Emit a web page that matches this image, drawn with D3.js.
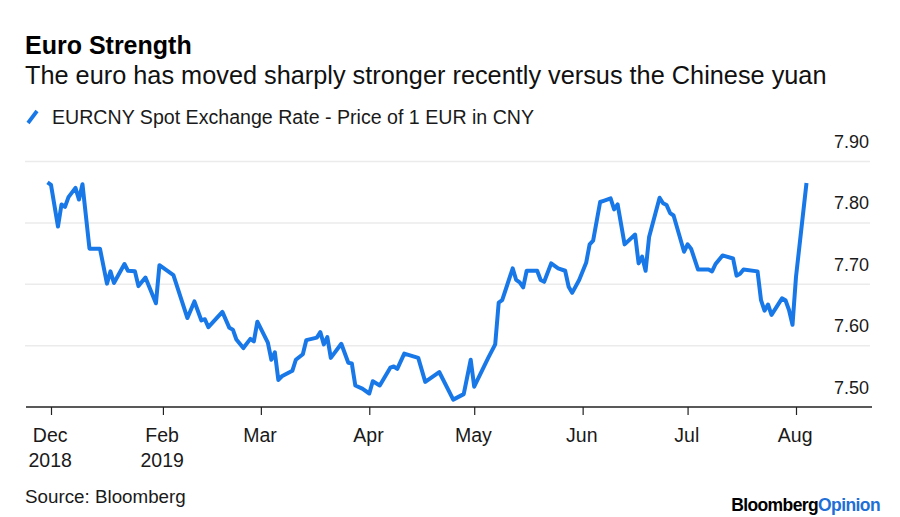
<!DOCTYPE html>
<html>
<head>
<meta charset="utf-8">
<script src="https://cdn.jsdelivr.net/npm/d3@7"></script>
<style>
  html, body { margin: 0; padding: 0; background: #fff; }
  svg { display: block; font-family: "Liberation Sans", Arial, sans-serif; }
</style>
</head>
<body>
<svg id="chart" width="900" height="517"></svg>
<script>
// ---- Data ----
const dates = [
  "2018-12-30","2018-12-31","2019-01-02","2019-01-03","2019-01-04","2019-01-05","2019-01-07","2019-01-08","2019-01-09",
  "2019-01-11","2019-01-14","2019-01-16","2019-01-17","2019-01-18","2019-01-21","2019-01-22","2019-01-24","2019-01-25",
  "2019-01-27","2019-01-30","2019-01-31","2019-02-04","2019-02-08","2019-02-10","2019-02-12","2019-02-13","2019-02-14",
  "2019-02-18","2019-02-20","2019-02-21","2019-02-22","2019-02-24","2019-02-26","2019-02-27","2019-02-28","2019-03-03",
  "2019-03-04","2019-03-05","2019-03-06","2019-03-07","2019-03-10","2019-03-11","2019-03-13","2019-03-14","2019-03-17",
  "2019-03-18","2019-03-19","2019-03-20","2019-03-21","2019-03-24","2019-03-26","2019-03-27","2019-03-28","2019-03-30",
  "2019-04-01","2019-04-02","2019-04-04","2019-04-07","2019-04-08","2019-04-09","2019-04-11","2019-04-15","2019-04-17",
  "2019-04-21","2019-04-25","2019-04-28","2019-04-30","2019-05-01","2019-05-05","2019-05-07","2019-05-08","2019-05-09",
  "2019-05-12","2019-05-13","2019-05-14","2019-05-15","2019-05-16","2019-05-19","2019-05-20","2019-05-21","2019-05-23",
  "2019-05-25","2019-05-27","2019-05-28","2019-05-29","2019-05-31","2019-06-02","2019-06-03","2019-06-04","2019-06-06",
  "2019-06-07","2019-06-09","2019-06-10","2019-06-11","2019-06-13","2019-06-16","2019-06-17","2019-06-18","2019-06-19",
  "2019-06-20","2019-06-23","2019-06-24","2019-06-25","2019-06-26","2019-06-27","2019-06-30","2019-07-01","2019-07-02",
  "2019-07-04","2019-07-07","2019-07-08","2019-07-09","2019-07-11","2019-07-14","2019-07-15","2019-07-16","2019-07-17",
  "2019-07-21","2019-07-22","2019-07-23","2019-07-24","2019-07-25","2019-07-28","2019-07-29","2019-07-30","2019-07-31",
  "2019-08-01","2019-08-04"
];
const eurcny = [
  7.866,7.862,7.794,7.830,7.826,7.842,7.857,7.838,7.863,
  7.758,7.758,7.701,7.721,7.702,7.733,7.722,7.721,7.697,
  7.711,7.669,7.731,7.715,7.645,7.672,7.641,7.643,7.630,
  7.655,7.629,7.626,7.610,7.596,7.611,7.607,7.639,7.605,
  7.577,7.589,7.544,7.550,7.559,7.577,7.586,7.609,7.613,
  7.622,7.602,7.614,7.580,7.603,7.572,7.571,7.535,7.530,
  7.522,7.542,7.535,7.564,7.566,7.562,7.587,7.580,7.541,
  7.557,7.512,7.521,7.577,7.533,7.580,7.602,7.670,7.674,
  7.726,7.707,7.703,7.695,7.722,7.722,7.707,7.704,7.734,
  7.726,7.722,7.696,7.686,7.707,7.735,7.765,7.771,7.834,
  7.836,7.840,7.822,7.830,7.765,7.781,7.734,7.745,7.722,
  7.777,7.841,7.832,7.829,7.816,7.812,7.753,7.765,7.758,
  7.724,7.724,7.721,7.733,7.747,7.742,7.714,7.717,7.724,
  7.721,7.674,7.657,7.667,7.650,7.677,7.674,7.658,7.634,
  7.712,7.865
];
const tickDates = ["2018-12-31","2019-02-01","2019-03-01","2019-04-01","2019-05-01","2019-06-01","2019-07-01","2019-08-01"];
const tickMonths = ["Dec","Feb","Mar","Apr","May","Jun","Jul","Aug"];
const tickYears = ["2018","2019","","","","","",""];
const yTicks = [7.50, 7.60, 7.70, 7.80, 7.90];

const title = "Euro Strength";
const subtitle = "The euro has moved sharply stronger recently versus the Chinese yuan";
const seriesName = "EURCNY Spot Exchange Rate - Price of 1 EUR in CNY";
const source = "Source: Bloomberg";

// ---- Setup ----
const parse = d3.timeParse("%Y-%m-%d");
const data = dates.map((d, i) => ({ date: parse(d), value: eurcny[i] }));
const ticks = tickDates.map((d, i) => ({ date: parse(d), m: tickMonths[i], y: tickYears[i] }));

const svg = d3.select("#chart");
const blue = "#1878e8";
const textCol = "#1a1a1a";

const x = d3.scaleTime()
  .domain([parse("2018-12-31"), parse("2019-08-01")])
  .range([51, 796]);
const y = d3.scaleLinear().domain([7.5, 7.9]).range([407, 161.5]);

const plotLeft = 25, plotRight = 870, axisRight = 872;

// Title block
svg.append("text").attr("x", 25).attr("y", 54)
  .attr("font-size", 25).attr("font-weight", "bold").attr("fill", "#000").text(title);
svg.append("text").attr("x", 25).attr("y", 83.5)
  .attr("font-size", 25.3).attr("fill", "#111").text(subtitle);

// Legend
svg.append("line").attr("x1", 28).attr("y1", 123).attr("x2", 37).attr("y2", 111)
  .attr("stroke", blue).attr("stroke-width", 3.8).attr("stroke-linecap", "butt");
svg.append("text").attr("x", 52).attr("y", 124)
  .attr("font-size", 19.6).attr("fill", textCol).text(seriesName);

// Gridlines
svg.append("g").selectAll("line").data(yTicks.slice(1)).join("line")
  .attr("x1", plotLeft).attr("x2", plotRight)
  .attr("y1", d => y(d)).attr("y2", d => y(d))
  .attr("stroke", "#ebebeb").attr("stroke-width", 1.5);

// Y labels (above gridlines)
svg.append("g").selectAll("text").data(yTicks).join("text")
  .attr("x", 869).attr("y", d => y(d) - 13.5)
  .attr("text-anchor", "end").attr("font-size", 18).attr("fill", textCol)
  .text(d => d3.format(".2f")(d));

// X axis
const xAxis = d3.axisBottom(x)
  .tickValues(ticks.map(t => t.date))
  .tickSize(8)
  .tickFormat("");
const gx = svg.append("g").attr("transform", `translate(0,${y(7.5)})`).call(xAxis);
gx.select(".domain").remove();
gx.selectAll(".tick line").attr("stroke", "#222").attr("stroke-width", 1.2);
svg.append("line").attr("x1", 26).attr("x2", axisRight)
  .attr("y1", y(7.5)).attr("y2", y(7.5)).attr("stroke", "#222").attr("stroke-width", 1.5);

const tl = svg.append("g").selectAll("g").data(ticks).join("g")
  .attr("transform", d => `translate(${x(d.date) - 0.8},0)`);
tl.append("text").attr("y", 442.3).attr("text-anchor", "middle")
  .attr("font-size", 19.5).attr("fill", textCol).text(d => d.m);
tl.append("text").attr("y", 466.7).attr("text-anchor", "middle")
  .attr("font-size", 19.5).attr("fill", textCol).text(d => d.y);

// Line
const line = d3.line().x(d => x(d.date)).y(d => y(d.value)).curve(d3.curveLinear);
svg.append("path").datum(data).attr("d", line)
  .attr("fill", "none").attr("stroke", blue).attr("stroke-width", 4)
  .attr("stroke-linejoin", "round").attr("stroke-linecap", "butt");

// Footer
svg.append("text").attr("x", 25).attr("y", 502.7)
  .attr("font-size", 18.8).attr("fill", textCol).text(source);
const logo = svg.append("text").attr("x", 880).attr("y", 511)
  .attr("text-anchor", "end").attr("font-size", 17.5).attr("font-weight", "bold")
  .attr("letter-spacing", -0.6);
logo.append("tspan").attr("fill", "#000").text("Bloomberg");
logo.append("tspan").attr("fill", "#1f6fd6").text("Opinion");
</script>
</body>
</html>
